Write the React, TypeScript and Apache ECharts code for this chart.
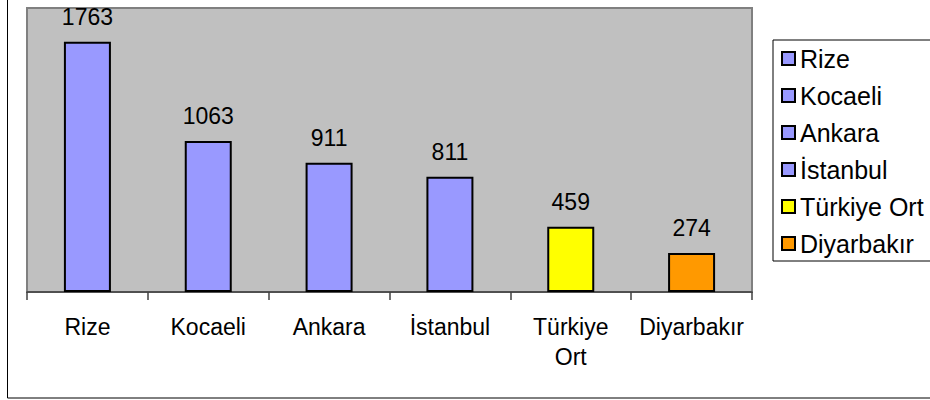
import React, { useEffect, useRef } from "react";
import * as echarts from "echarts";

const categories = ["Rize", "Kocaeli", "Ankara", "İstanbul", "Türkiye Ort", "Diyarbakır"];
const values = [1763, 1063, 911, 811, 459, 274];
const barColors = ["#9999FF", "#9999FF", "#9999FF", "#9999FF", "#FFFF00", "#FF9900"];
const yMax = 2000;

const FONT = "'Liberation Sans', Arial, sans-serif";

export default function App() {
  const ref = useRef<HTMLDivElement>(null);
  useEffect(() => {
    if (!ref.current) return;
    const chart = echarts.init(ref.current, undefined, { renderer: "svg" });
    const series = categories.map((name, i) => ({
      name,
      type: "bar",
      barWidth: 47,
      barGap: "-100%",
      data: categories.map((_, j) => (j === i ? values[i] : "-")),
      itemStyle: { color: barColors[i], borderColor: "#000", borderWidth: 2 },
      label: {
        show: true,
        position: "top",
        distance: 13,
        fontSize: 23,
        lineHeight: 24,
        fontFamily: FONT,
        color: "#000",
      },
    }));
    chart.setOption({
      animation: false,
      backgroundColor: "#fff",
      textStyle: { fontFamily: FONT },
      graphic: [
        {
          type: "rect",
          shape: { x: 7.5, y: -10, width: 1000, height: 408 },
          style: { fill: "none", stroke: "#000", lineWidth: 1 },
          z: 0,
          silent: true,
        },
      ],
      grid: {
        left: 27,
        top: 8,
        right: 178,
        bottom: 108,
        show: true,
        backgroundColor: "#C0C0C0",
        borderColor: "#808080",
        borderWidth: 2,
      },
      legend: {
        orient: "vertical",
        left: 773,
        top: 40,
        data: categories,
        icon: "rect",
        itemWidth: 13,
        itemHeight: 13,
        itemGap: 12,
        padding: [6, 24, 5, 8],
        backgroundColor: "#fff",
        borderColor: "#000",
        borderWidth: 1,
        textStyle: { fontSize: 25, lineHeight: 24, color: "#000", fontFamily: FONT },
      },
      xAxis: {
        type: "category",
        data: categories,
        axisLine: { show: true, lineStyle: { color: "#404040", width: 1.5 } },
        axisTick: { show: true, length: 8, lineStyle: { color: "#404040", width: 1.5 } },
        axisLabel: {
          interval: 0,
          margin: 20,
          fontSize: 23,
          lineHeight: 30,
          color: "#000",
          fontFamily: FONT,
          formatter: (v: string) => v.replace(" ", "\n"),
        },
      },
      yAxis: {
        type: "value",
        min: 0,
        max: yMax,
        show: false,
        splitLine: { show: false },
      },
      series,
    });
    return () => chart.dispose();
  }, []);
  return (
    <div
      ref={ref}
      style={{ position: "fixed", left: 0, top: 0, width: 930, height: 400 }}
    />
  );
}
